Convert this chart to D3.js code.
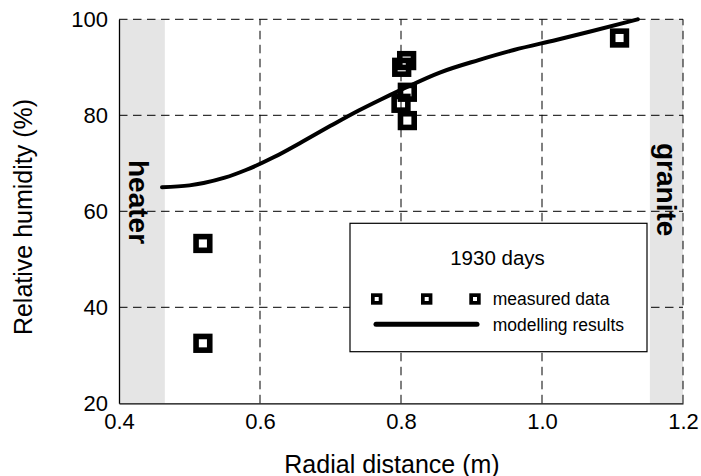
<!DOCTYPE html>
<html><head><meta charset="utf-8">
<script src="https://cdn.jsdelivr.net/npm/d3@7"></script>
<style>body{margin:0;background:#fff}svg{display:block;font-family:"Liberation Sans",Arial,sans-serif}</style>
</head><body>
<svg id="c" width="701" height="476"></svg>
<script>
// ---- data ----
const xTicks = [0.4, 0.6, 0.8, 1.0, 1.2];
const yTicks = [20, 40, 60, 80, 100];
const measuredX = [0.519, 0.519, 0.801, 0.808, 0.809, 0.800, 0.809, 1.110];
const measuredY = [53.3, 32.5, 90.0, 91.4, 84.8, 82.5, 78.9, 96.1];
const modelX = [0.461, 0.50, 0.52, 0.55, 0.58, 0.62, 0.66, 0.70, 0.74, 0.77, 0.80, 0.855, 0.91, 0.96, 1.02, 1.07, 1.136];
const modelY = [65.0, 65.4, 65.9, 67.0, 68.6, 71.3, 74.5, 77.8, 81.0, 83.2, 85.3, 88.9, 91.5, 93.6, 95.7, 97.5, 100.0];
const heaterBand = [0.4, 0.465];
const graniteBand = [1.153, 1.2];
const legendTitle = "1930 days";
const seriesNames = ["measured data", "modelling results"];

const svg = d3.select("#c");
const x = d3.scaleLinear().domain([0.4, 1.2]).range([119, 683]);
const y = d3.scaleLinear().domain([20, 100]).range([403.3, 19.3]);

// bands
svg.append("rect").attr("x", x(heaterBand[0])).attr("y", y(100))
  .attr("width", x(heaterBand[1]) - x(heaterBand[0])).attr("height", y(20) - y(100)).attr("fill", "#e5e5e5");
svg.append("rect").attr("x", x(graniteBand[0])).attr("y", y(100))
  .attr("width", x(graniteBand[1]) - x(graniteBand[0])).attr("height", y(20) - y(100)).attr("fill", "#e5e5e5");

// grid
const dash = "8.5,5.5";
svg.append("g").selectAll("line").data(xTicks.slice(1)).join("line")
  .attr("x1", d => x(d)).attr("x2", d => x(d)).attr("y1", y(20)).attr("y2", y(100))
  .attr("stroke", "#000").attr("stroke-width", 1).attr("stroke-dasharray", dash);
svg.append("g").selectAll("line").data(yTicks.slice(1)).join("line")
  .attr("x1", x(0.4)).attr("x2", x(1.2)).attr("y1", d => y(d)).attr("y2", d => y(d))
  .attr("stroke", "#000").attr("stroke-width", 1).attr("stroke-dasharray", dash);

// axes
const xAxis = d3.axisBottom(x).tickValues(xTicks).tickFormat(d3.format(".1f")).tickSize(0).tickPadding(10);
const gx = svg.append("g").attr("transform", `translate(0,${y(20)})`).call(xAxis);
gx.select(".domain").attr("stroke", "#000").attr("stroke-width", 1.3);
gx.selectAll("text").attr("font-size", 22).attr("fill", "#000").attr("font-family", "Liberation Sans, Arial");
const yAxis = d3.axisLeft(y).tickValues(yTicks).tickFormat(d3.format("d")).tickSize(0).tickPadding(11);
const gy = svg.append("g").attr("transform", `translate(${x(0.4)},0)`).call(yAxis);
gy.select(".domain").attr("stroke", "#000").attr("stroke-width", 1.3);
gy.selectAll("text").attr("font-size", 22).attr("fill", "#000").attr("font-family", "Liberation Sans, Arial");

// model curve
const pts = modelX.map((v, i) => [v, modelY[i]]);
svg.append("path").datum(pts)
  .attr("d", d3.line().x(d => x(d[0])).y(d => y(d[1])).curve(d3.curveMonotoneX))
  .attr("fill", "none").attr("stroke", "#000").attr("stroke-width", 4).attr("stroke-linecap", "round");

// measured points
const S = 13.7;
svg.append("g").selectAll("rect").data(measuredX.map((v, i) => [v, measuredY[i]])).join("rect")
  .attr("x", d => x(d[0]) - S / 2).attr("y", d => y(d[1]) - S / 2).attr("width", S).attr("height", S)
  .attr("fill", "none").attr("stroke", "#000").attr("stroke-width", 5.6);

// band labels
svg.append("text").attr("transform", `translate(129,160) rotate(90)`)
  .attr("font-size", 28).attr("font-weight", "bold").attr("fill", "#000").text("heater");
svg.append("text").attr("transform", `translate(657,143) rotate(90)`)
  .attr("font-size", 28).attr("font-weight", "bold").attr("fill", "#000").text("granite");

// legend
const lg = svg.append("g");
lg.append("rect").attr("x", 350).attr("y", 223.3).attr("width", 297).attr("height", 128.4)
  .attr("fill", "#fff").attr("stroke", "#000").attr("stroke-width", 1.2);
lg.append("text").attr("x", 497.5).attr("y", 265).attr("text-anchor", "middle").attr("font-size", 20.5).text(legendTitle);
const lS = 7.7;
lg.selectAll("rect.m").data([376.7, 426.7, 475]).join("rect").attr("class", "m")
  .attr("x", d => d - lS / 2).attr("y", 299 - lS / 2).attr("width", lS).attr("height", lS)
  .attr("fill", "none").attr("stroke", "#000").attr("stroke-width", 3.7);
lg.append("text").attr("x", 492.7).attr("y", 305).attr("font-size", 17.5).text(seriesNames[0]);
lg.append("line").attr("x1", 376).attr("x2", 477).attr("y1", 324.3).attr("y2", 324.3)
  .attr("stroke", "#000").attr("stroke-width", 5).attr("stroke-linecap", "round");
lg.append("text").attr("x", 492.7).attr("y", 330.5).attr("font-size", 17.5).text(seriesNames[1]);

// axis titles
svg.append("text").attr("x", 392).attr("y", 472.5).attr("text-anchor", "middle").attr("font-size", 25).text("Radial distance (m)");
svg.append("text").attr("transform", `translate(32,217) rotate(-90)`).attr("text-anchor", "middle").attr("font-size", 25).text("Relative humidity (%)");
</script>
</body></html>
